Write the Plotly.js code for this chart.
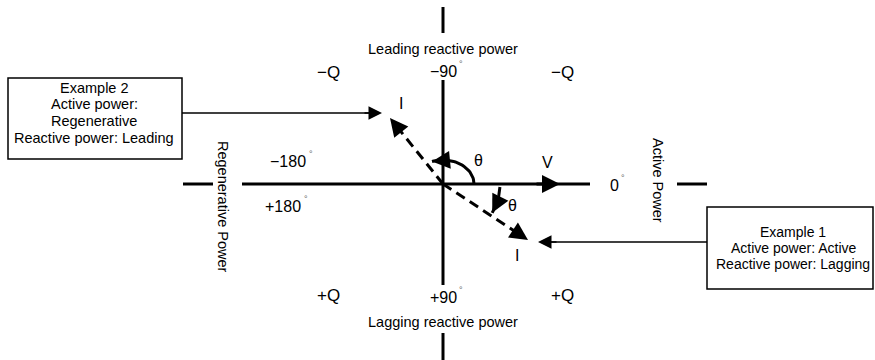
<!DOCTYPE html>
<html>
<head>
<meta charset="utf-8">
<script src="https://cdn.plot.ly/plotly-3.0.1.min.js"></script>
<style>html,body{margin:0;padding:0;background:#fff;}#chart{width:875px;height:360px;}</style>
</head>
<body>
<div id="chart"></div>
<script>
// ---- data ----
const phasorNames = ['V', 'I', 'I'];
const phasorX = [117, 85, -53];
const phasorY = [0, -56, 66];
const quadrantLabels = ['−Q', '−Q', '+Q', '+Q'];
const angleTickLabels = ['0', '−90', '+90', '−180', '+180'];
const axisTitles = ['Active Power', 'Regenerative Power', 'Leading reactive power', 'Lagging reactive power'];
const example1Lines = ['Example 1', 'Active power: Active', 'Reactive power: Lagging'];
const example2Lines = ['Example 2', 'Active power:', 'Regenerative', 'Reactive power: Leading'];
const angleSymbol = 'θ';
const degreeSign = '°';

// ---- drawing ----
const FONT = 'Liberation Sans, Arial, Helvetica, sans-serif';
const BLACK = '#000';
const deg = d => d * Math.PI / 180;
const traces = [];
const shapes = [];
const ann = [];

function seg(x0, y0, x1, y1, w) {
  shapes.push({type: 'line', xref: 'x', yref: 'y', x0, y0, x1, y1, line: {color: BLACK, width: w}});
}
function arrowHead(tx, ty, fx, fy, w, size) {
  ann.push({x: tx, y: ty, ax: fx, ay: fy, xref: 'x', yref: 'y', axref: 'x', ayref: 'y',
    text: '', showarrow: true, arrowhead: 2, arrowsize: size, arrowwidth: w, arrowcolor: BLACK, standoff: 0, startstandoff: 0});
}
function label(x, y, text, size, extra) {
  ann.push(Object.assign({x, y, xref: 'x', yref: 'y', text, showarrow: false,
    font: {family: FONT, size, color: BLACK}, xanchor: 'center', yanchor: 'middle'}, extra || {}));
}
function tickLabel(x, y, text) {
  label(x, y, text, 16);
  // small raised degree sign right after the number
  ann.push({x, y, xref: 'x', yref: 'y', text: degreeSign, showarrow: false,
    font: {family: FONT, size: 9, color: '#666'}, xanchor: 'left', yanchor: 'middle',
    xshift: text.length * 4.6 + 0.5, yshift: 7});
}

// axes (cross)
seg(0, 104, 0, -101, 3);
seg(0, 177, 0, 151, 3);
seg(0, -149, 0, -176, 3);
seg(-201, 0, 147, 0, 3);
seg(-260, 0, -230, 0, 3);
seg(234, 0, 264, 0, 3);

// phasors
phasorNames.forEach((name, i) => {
  const x = phasorX[i], y = phasorY[i];
  const L = Math.hypot(x, y);
  const ux = x / L, uy = y / L;
  if (i === 0) {
    arrowHead(x, y, x - 25 * ux, y - 25 * uy, 3, 1.2);
    label(x - 13, 22, name, 16);
  } else {
    traces.push({x: [0, x - 6 * ux], y: [0, y - 6 * uy], mode: 'lines', hoverinfo: 'skip',
      line: {color: BLACK, width: 3, dash: '10px,6px'}});
    arrowHead(x, y, x - 8 * ux, y - 8 * uy, 3, 1.2);
    label(x + (i === 1 ? -11 : 11), y + (i === 1 ? -15 : 15), name, 16);
  }
});

// angle arcs
function arc(rx, ry, a0, a1) {
  const xs = [], ys = [];
  const n = 30;
  for (let k = 0; k <= n; k++) {
    const a = deg(a0 + (a1 - a0) * k / n);
    xs.push(rx * Math.cos(a)); ys.push(ry * Math.sin(a));
  }
  traces.push({x: xs, y: ys, mode: 'lines', hoverinfo: 'skip', line: {color: BLACK, width: 3}});
  const e = deg(a1), p = deg(a1 - (a1 - a0) * 0.25);
  arrowHead(rx * Math.cos(e), ry * Math.sin(e), rx * Math.cos(p), ry * Math.sin(p), 3, 1.2);
}
const angUp = Math.atan2(phasorY[2], phasorX[2]) * 180 / Math.PI;
const angDn = Math.atan2(phasorY[1], phasorX[1]) * 180 / Math.PI;
arc(31, 24, 0, angUp - 18);
arc(57, 57, -3, angDn + 3);
label(35, 24, angleSymbol, 16);
label(69, -21, angleSymbol, 16);

// tick / quadrant labels
label(-115, 112, quadrantLabels[0], 17);
label(119, 112, quadrantLabels[1], 17);
label(-115, -111, quadrantLabels[2], 17);
label(119, -111, quadrantLabels[3], 17);
tickLabel(171, -1, angleTickLabels[0]);
tickLabel(0, 113, angleTickLabels[1]);
tickLabel(0, -113, angleTickLabels[2]);
tickLabel(-155, 23, angleTickLabels[3]);
tickLabel(-160, -22, angleTickLabels[4]);

// axis titles
label(215, 4, axisTitles[0], 14.5, {textangle: 90});
label(-220, -23, axisTitles[1], 14.5, {textangle: 90});
label(0, 135, axisTitles[2], 14.5);
label(0, -138, axisTitles[3], 14.5);

// example boxes
shapes.push({type: 'rect', xref: 'x', yref: 'y', x0: -435, x1: -261, y0: 106, y1: 25, line: {color: BLACK, width: 1.5}, fillcolor: 'rgba(0,0,0,0)'});
const ex2Y = [96, 80, 63, 46];
example2Lines.forEach((t, k) => label(-349, ex2Y[k], t, 14.5));
seg(-261, 71, -70, 71, 1.5);
arrowHead(-61, 71, -80, 71, 1.5, 1.8);

shapes.push({type: 'rect', xref: 'x', yref: 'y', x0: 264, x1: 430, y0: -23, y1: -105, line: {color: BLACK, width: 1.5}, fillcolor: 'rgba(0,0,0,0)'});
const ex1Y = [-48, -64, -80];
example1Lines.forEach((t, k) => label(350, ex1Y[k], t, 14));
seg(264, -58, 105, -58, 1.5);
arrowHead(95, -58, 115, -58, 1.5, 1.8);

const layout = {
  width: 875, height: 360,
  margin: {l: 0, r: 0, t: 0, b: 0},
  paper_bgcolor: '#fff', plot_bgcolor: '#fff',
  showlegend: false,
  xaxis: {range: [-443, 432], visible: false, fixedrange: true},
  yaxis: {range: [-176, 184], visible: false, fixedrange: true},
  shapes, annotations: ann,
  font: {family: FONT}
};
Plotly.newPlot('chart', traces, layout, {staticPlot: true, displayModeBar: false});
</script>
</body>
</html>
